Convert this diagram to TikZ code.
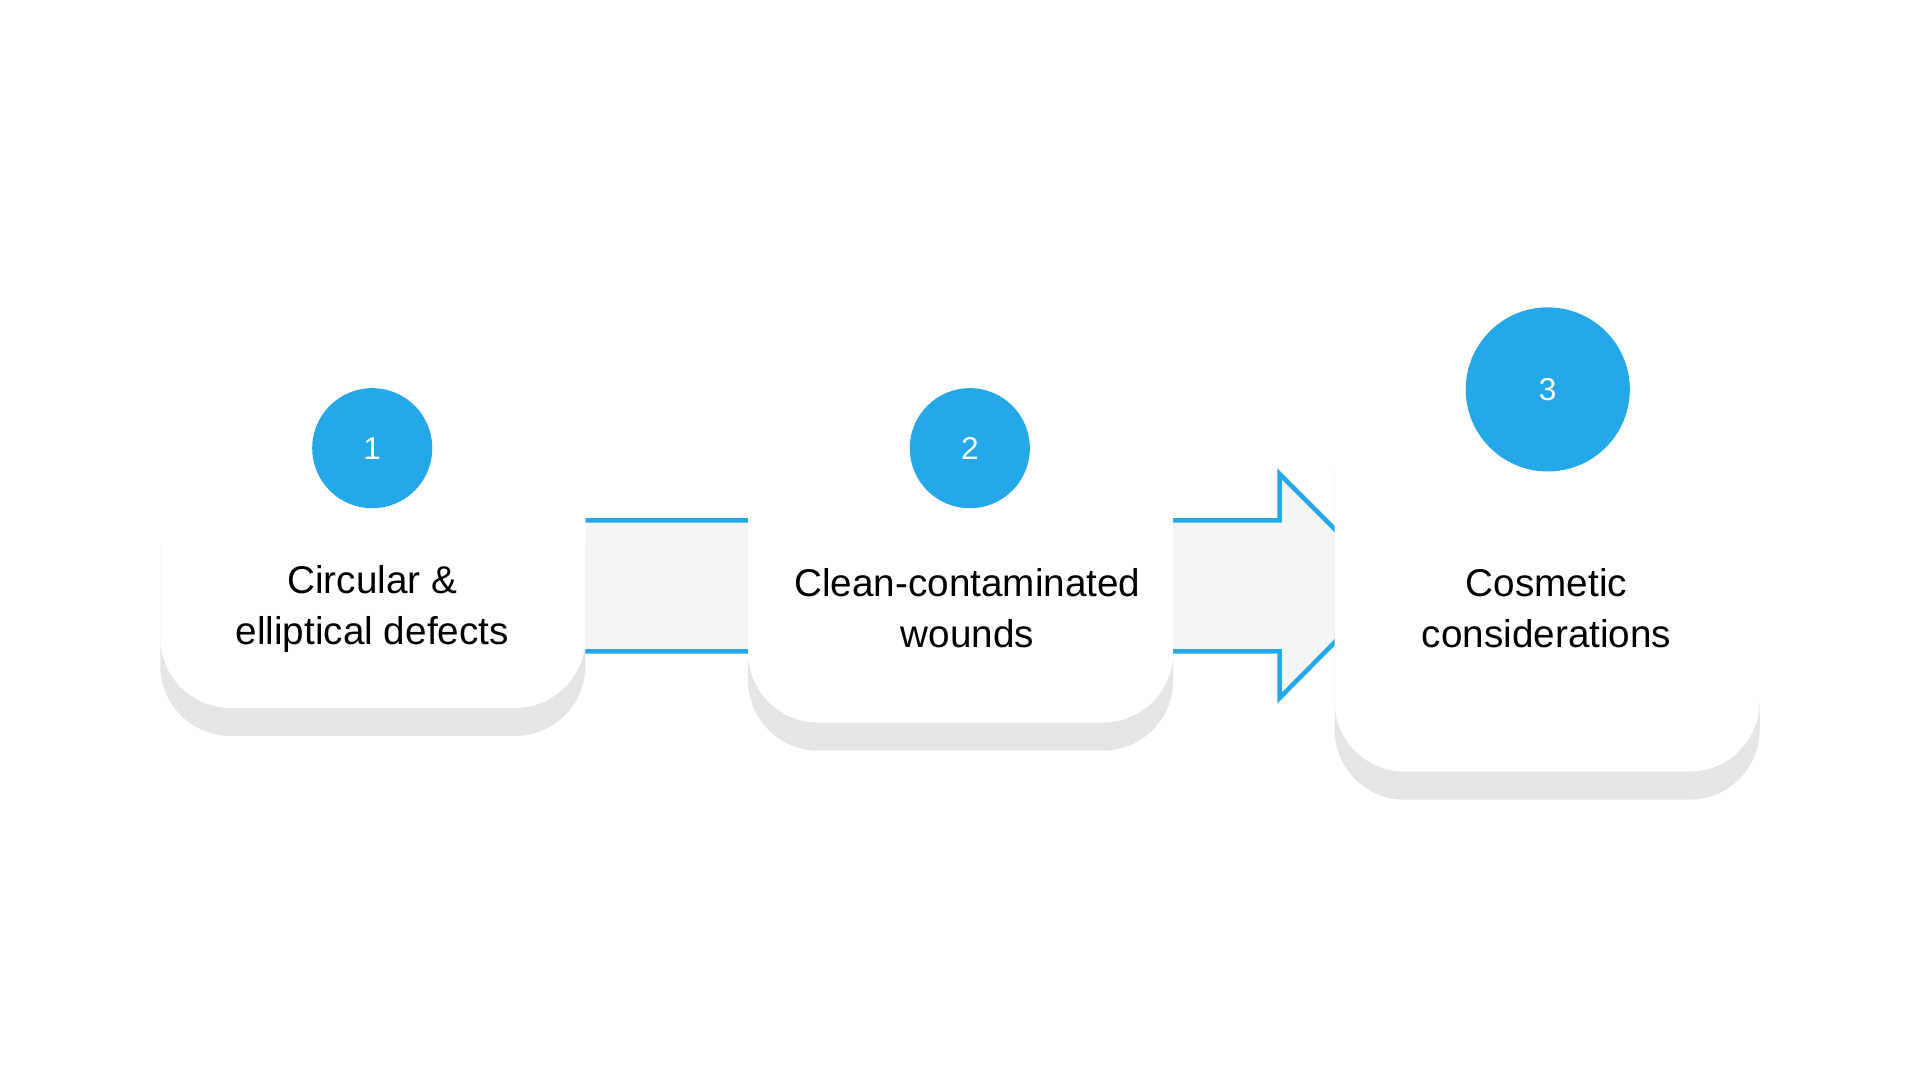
\documentclass[tikz,border=0pt]{standalone}
\usepackage{fontspec}
\setmainfont{Liberation Sans}
\usetikzlibrary{shadows,calc}
\definecolor{dotblue}{HTML}{24A8E8}
\definecolor{bandgray}{HTML}{F3F4F5}
\begin{document}
\begin{tikzpicture}[x=0.012245cm,y=-0.012245cm]
    \tikzset{% styles for the cards and badges
    card/.style={rounded corners=20, fill=white, inner sep=0pt,
      drop shadow={shadow xshift=0pt, shadow yshift=-8pt, opacity=0.10, fill=black},
      align=center},
    badge/.style={circle, fill=dotblue, text=white, inner sep=0pt, font=\fontsize{9}{10}\selectfont},
    band/.style={draw=dotblue, line width=1.3pt},
    }
    \useasboundingbox (0,0) rectangle (1568,882);
    % Arrow band
    \path[fill=bandgray] (478,425) -- (1045,425) -- (1045,387) -- (1136,478) -- (1045,570) -- (1045,532) -- (478,532) -- cycle;
    \draw[band] (478,425) -- (1045,425) -- (1045,387) -- (1136,478) -- (1045,570) -- (1045,532) -- (478,532);
    % Cards
    \node[card, minimum width=4.249cm, minimum height=2.547cm] (c1) at (304.5,474) {};
    \node[card, minimum width=4.249cm, minimum height=2.853cm] (c2) at (784.5,473.5) {};
    \node[card, minimum width=4.249cm, minimum height=3.980cm] (c3) at (1263.5,467.5) {};
    % Labels
    \node[align=center, font=\fontsize{11}{14.5}\selectfont] (t1) at (304,497) {Circular \&\\elliptical defects};
    \node[align=center, font=\fontsize{11}{14.5}\selectfont] (t2) at (790,497) {Clean-contaminated\\wounds};
    \node[align=center, font=\fontsize{11}{14.5}\selectfont] (t3) at (1263,497) {Cosmetic\\considerations};
    % Badges
    \node[badge, minimum size=1.2cm] (b1) at (304,366) {1};
    \node[badge, minimum size=1.2cm] (b2) at (792,366) {2};
    \node[badge, minimum size=1.64cm] (b3) at (1264,318) {3};
\end{tikzpicture}
\end{document}
